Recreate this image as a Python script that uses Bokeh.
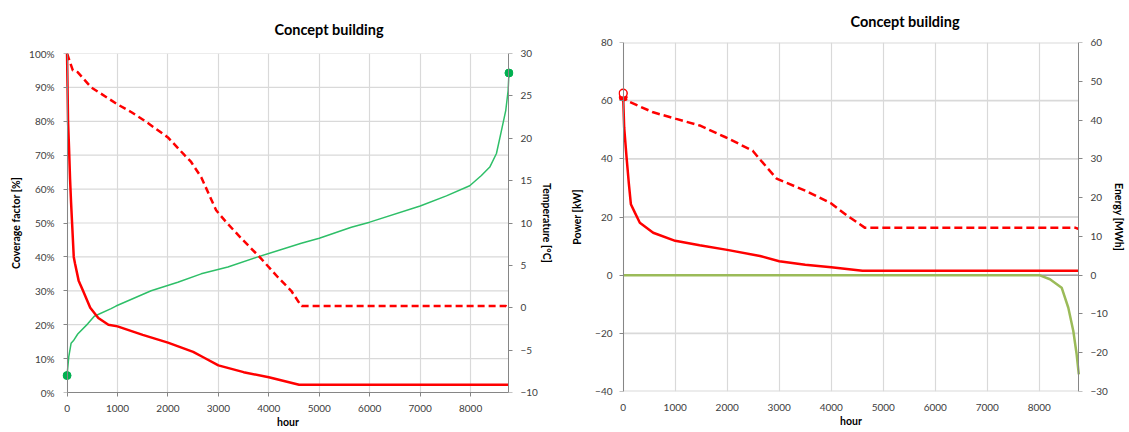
from bokeh.plotting import figure
from bokeh.models import Range1d, LinearAxis, FixedTicker, PrintfTickFormatter
from bokeh.layouts import row
from bokeh.embed import file_html
from bokeh.resources import INLINE

# ---------------- data: left chart ----------------
cov_hours = [0, 10, 20, 40, 60, 80, 100, 133, 159, 230, 317, 460, 620, 820, 1000,
             1500, 2000, 2500, 2700, 3000, 3500, 4000, 4600, 8760]
cov_pct = [100, 90, 80, 72, 63, 56, 50, 40, 38, 33, 30, 25, 22, 20, 19.5,
           17, 14.7, 12, 10.4, 8, 6, 4.5, 2.3, 2.3]

sup_hours = [0, 115, 210, 480, 1000, 1270, 1530, 2000, 2330, 2460, 2660, 2956, 3155,
             3452, 3816, 4180, 4444, 4610, 4650, 8700, 8760]
sup_temp = [30, 28, 27.8, 26, 24, 23.1, 22.1, 20.1, 18, 17.2, 15.4, 11.5, 10.1,
            8.2, 6, 3.6, 2, 0.5, 0.2, 0.2, 0.0]

out_hours = [0, 34, 80, 125, 212, 410, 540, 873, 970, 1667, 2196, 2659, 3188, 3783,
             4643, 5000, 5635, 6000, 7000, 7520, 7982, 8214, 8380, 8512, 8611, 8697,
             8743, 8760]
out_temp = [-8, -5.8, -4.2, -3.9, -3.1, -1.9, -1.0, -0.1, 0.2, 2, 3, 4, 4.8, 6,
            7.6, 8.2, 9.5, 10.1, 12, 13.2, 14.4, 15.6, 16.6, 18.2, 20.9, 23.3,
            25.6, 27.7]

# ---------------- data: right chart ----------------
pow_hours = [0, 19, 65, 110, 148, 225, 320, 577, 1000, 1470, 2000, 2630, 3000,
             3500, 4000, 4600, 8760]
pow_kw = [61.2, 50.8, 40.5, 31.3, 24.4, 21.5, 18, 14.6, 11.8, 10.3, 8.7, 6.6, 4.8,
          3.6, 2.7, 1.5, 1.5]

en_hours = [0, 65, 577, 1020, 1470, 1980, 2490, 2620, 2950, 3500, 4000, 4300, 4650,
            8700, 8760]
en_mwh = [46.9, 45, 42, 40.3, 38.6, 35.5, 32.1, 30, 24.9, 21.8, 18.5, 15.4, 12.2,
          12.2, 11.9]

gen_hours = [0, 8000, 8205, 8430, 8558, 8654, 8718, 8760]
gen_kw = [0, 0, -1.4, -4.3, -11.2, -19.2, -27.2, -34.1]

hour_ticks = list(range(0, 9000, 1000))
pct_ticks = list(range(0, 110, 10))
temp_ticks = list(range(-10, 35, 5))
kw_ticks = list(range(-40, 100, 20))
mwh_ticks = list(range(-30, 70, 10))

title_text = "Concept building"
x_label = "hour"

X_MIN, X_MAX = 0, 8760
PAD = 90  # small padding so the end markers are not cut by the frame

FONT = "Lato"
RED = "#FF0000"
GREEN_L = "#2EBF68"
GREEN_DOT = "#00B050"
GREEN_R = "#9BBB59"
GRID = "#D9D9D9"
AXIS = "#868686"
TICK_TXT = "#404040"


def style_axis(ax, label_standoff=4, axis_label_standoff=4, tick_out=4):
    ax.axis_line_color = AXIS
    ax.major_tick_line_color = AXIS
    ax.minor_tick_line_color = None
    ax.major_tick_out = tick_out
    ax.major_tick_in = 0
    ax.major_label_text_font = FONT
    ax.major_label_text_font_size = "10px"
    ax.major_label_text_color = TICK_TXT
    ax.axis_label_text_font = FONT
    ax.axis_label_text_font_size = "10.5px"
    ax.axis_label_text_font_style = "bold"
    ax.axis_label_text_color = "#000000"
    ax.major_label_standoff = label_standoff
    ax.axis_label_standoff = axis_label_standoff


def label_axis(ax, label_standoff, axis_label_standoff):
    # labels only, placed at the frame edge
    style_axis(ax, label_standoff, axis_label_standoff, tick_out=0)
    ax.axis_line_color = None
    ax.major_tick_line_color = None


def line_axis(p, side, ticks, loc, range_name=None):
    # axis line + ticks drawn exactly at x = loc (its labels are not drawn)
    kw = {} if range_name is None else {"y_range_name": range_name}
    ax = LinearAxis(ticker=FixedTicker(ticks=ticks), fixed_location=loc, **kw)
    style_axis(ax, 0, 0, tick_out=4)
    ax.major_label_text_font_size = "1px"
    ax.major_label_text_color = None
    p.add_layout(ax, side)


def style_title(p, offset, standoff, valign):
    p.title.text = title_text
    p.title.align = "left"
    p.title.offset = offset
    p.title.standoff = standoff
    p.title.vertical_align = valign
    p.title.text_font = FONT
    p.title.text_font_size = "14.5px"
    p.title.text_font_style = "bold"
    p.title.text_color = "#000000"


def hgrid(p, ticks, **kw):
    n = len(ticks)
    p.segment(x0=[X_MIN] * n, y0=ticks, x1=[X_MAX] * n, y1=ticks,
              line_color=GRID, **kw)


# ================= left chart =================
p1 = figure(width=557, height=431,
            min_border_left=62, min_border_right=44,
            min_border_top=53, min_border_bottom=39,
            x_range=Range1d(X_MIN - PAD, X_MAX + PAD), y_range=Range1d(0, 100),
            output_backend="svg", toolbar_location=None)
p1.frame_align = False
p1.outline_line_color = None
p1.extra_y_ranges = {"temp": Range1d(-10, 30)}
style_title(p1, 212, 31, "bottom")

p1.xaxis.ticker = FixedTicker(ticks=hour_ticks)
p1.xaxis.axis_label = x_label
p1.xaxis.bounds = (X_MIN, X_MAX)
style_axis(p1.xaxis[0], 8, 1)

p1.yaxis.ticker = FixedTicker(ticks=pct_ticks)
p1.yaxis.formatter = PrintfTickFormatter(format="%d%%")
p1.yaxis.axis_label = "Coverage factor [%]"
label_axis(p1.yaxis[0], 8, 4)

ax_t = LinearAxis(y_range_name="temp", ticker=FixedTicker(ticks=temp_ticks),
                  axis_label="Temperature [°C]")
label_axis(ax_t, 7, 0)
p1.add_layout(ax_t, "right")

line_axis(p1, "left", pct_ticks, X_MIN)
line_axis(p1, "right", temp_ticks, X_MAX, "temp")

p1.xgrid.grid_line_color = GRID
p1.xgrid.grid_line_width = 1.2
p1.ygrid.grid_line_color = None
hgrid(p1, pct_ticks, line_width=1.2)

p1.line(out_hours, out_temp, y_range_name="temp", line_color=GREEN_L, line_width=1.5)
p1.line(sup_hours, sup_temp, y_range_name="temp", line_color=RED, line_width=2.5,
        line_dash="7 4")
p1.line(cov_hours, cov_pct, line_color=RED, line_width=2.5)
p1.scatter([out_hours[0], out_hours[-1]], [out_temp[0], out_temp[-1]],
           y_range_name="temp", size=8, fill_color=GREEN_DOT, line_color=GREEN_DOT)

# ================= right chart =================
p2 = figure(width=570, height=431,
            min_border_left=61, min_border_right=44,
            min_border_top=42, min_border_bottom=40,
            x_range=Range1d(X_MIN - PAD, X_MAX + PAD), y_range=Range1d(-40, 80),
            output_backend="svg", toolbar_location=None)
p2.frame_align = False
p2.outline_line_color = None
p2.extra_y_ranges = {"energy": Range1d(-30, 60)}
style_title(p2, 232, 22, "top")

p2.xaxis.ticker = FixedTicker(ticks=hour_ticks)
p2.xaxis.axis_label = x_label
style_axis(p2.xaxis[0], 8, 1)
p2.xaxis.axis_line_color = None
p2.xaxis.major_tick_line_color = None

p2.yaxis.ticker = FixedTicker(ticks=kw_ticks)
p2.yaxis.axis_label = "Power [kW]"
label_axis(p2.yaxis[0], 6, 9)

ax_e = LinearAxis(y_range_name="energy", ticker=FixedTicker(ticks=mwh_ticks),
                  axis_label="Energy [MWh]")
label_axis(ax_e, 7, 2)
p2.add_layout(ax_e, "right")

line_axis(p2, "left", kw_ticks, X_MIN)
line_axis(p2, "right", mwh_ticks, X_MAX, "energy")

p2.xgrid.grid_line_color = GRID
p2.xgrid.grid_line_width = 1.2
p2.ygrid.grid_line_color = None
hgrid(p2, kw_ticks, line_width=1.8)
# horizontal axis line crossing at zero power
p2.segment(x0=[X_MIN], y0=[0], x1=[X_MAX], y1=[0], line_color=AXIS, line_width=1)

p2.line(gen_hours, gen_kw, line_color=GREEN_R, line_width=2.5)
p2.line(en_hours, en_mwh, y_range_name="energy", line_color=RED, line_width=2.5,
        line_dash="8 4")
p2.line(pow_hours, pow_kw, line_color=RED, line_width=2.5)
p2.scatter([pow_hours[0]], [pow_kw[0]], size=8, fill_color=RED, line_color=RED)
p2.scatter([en_hours[0]], [en_mwh[0]], y_range_name="energy", size=8,
           fill_color="white", line_color=RED, line_width=1.5)

layout = row(p1, p2)
open("out.html", "w").write(file_html(layout, INLINE))
